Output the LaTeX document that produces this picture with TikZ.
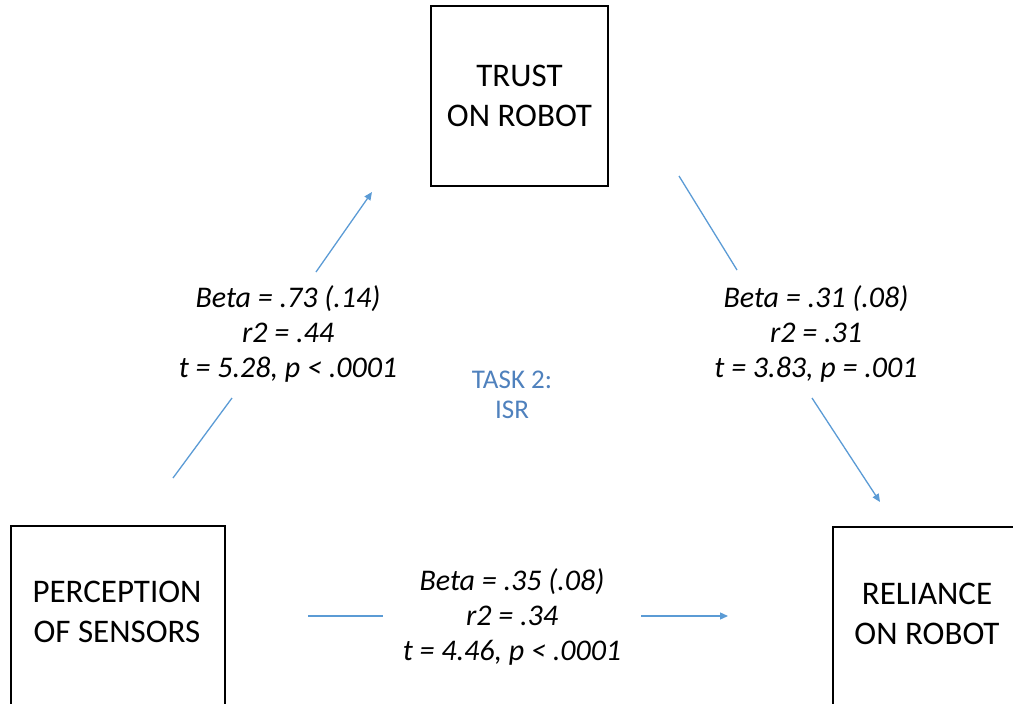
\documentclass[tikz,border=0pt]{standalone}
\usepackage{fontspec}
\setmainfont{Carlito}
\usetikzlibrary{positioning,arrows.meta}
\definecolor{linkblue}{RGB}{91,155,213}
\definecolor{taskblue}{RGB}{79,129,189}
\begin{document}
\begin{tikzpicture}[x=1pt,y=-1pt,
    box/.style={draw, line width=1.6pt, align=center, font=\fontsize{33}{40}\selectfont},
    stat/.style={align=center, font=\fontsize{30}{35}\selectfont\itshape},
    link/.style={draw=linkblue, line width=1.3pt},
    arr/.style={link, -{Triangle[length=8pt,width=7pt]}}]
    \useasboundingbox (0,0) rectangle (1013,704);
    \node [box, minimum width=177, minimum height=180] (trust) at (519.5,96) {TRUST\\ON ROBOT};
    \node [box, draw=none] (perc) at (117,612) {PERCEPTION\\OF SENSORS};
    \node [box, draw=none] (rel) at (927,614) {RELIANCE\\ON ROBOT};
    \draw [line width=1.6pt] (perc.center) ++(-106,-86) rectangle ++(214,220);
    \draw [line width=1.6pt] (rel.center) ++(-94,-87) rectangle ++(200,220);

    \node [stat] (sa) at (288,334) {Beta = .73 (.14)\\r2 = .44\\t = 5.28, p < .0001};
    \node [stat] (sb) at (816,334) {Beta = .31 (.08)\\r2 = .31\\t = 3.83, p = .001};
    \node [stat] (sc) at (512,617) {Beta = .35 (.08)\\r2 = .34\\t = 4.46, p < .0001};
    \node [align=center, text=taskblue, font=\fontsize{27}{30}\selectfont] (task) at (512,395) {TASK 2:\\ISR};

    \coordinate (a1) at (173,478); \coordinate (a2) at (232,398);
    \coordinate (a3) at (316,272); \coordinate (a4) at (372,192);
    \coordinate (b1) at (679,176); \coordinate (b2) at (737,270);
    \coordinate (b3) at (812,398); \coordinate (b4) at (880,502);
    \coordinate (c1) at (308,616); \coordinate (c2) at (383,616);
    \coordinate (c3) at (641,616); \coordinate (c4) at (728,616);
    \draw [link] (a1) -- (a2);
    \draw [arr] (a3) -- (a4);
    \draw [link] (b1) -- (b2);
    \draw [arr] (b3) -- (b4);
    \draw [link] (c1) -- (c2);
    \draw [arr] (c3) -- (c4);
\end{tikzpicture}
\end{document}
